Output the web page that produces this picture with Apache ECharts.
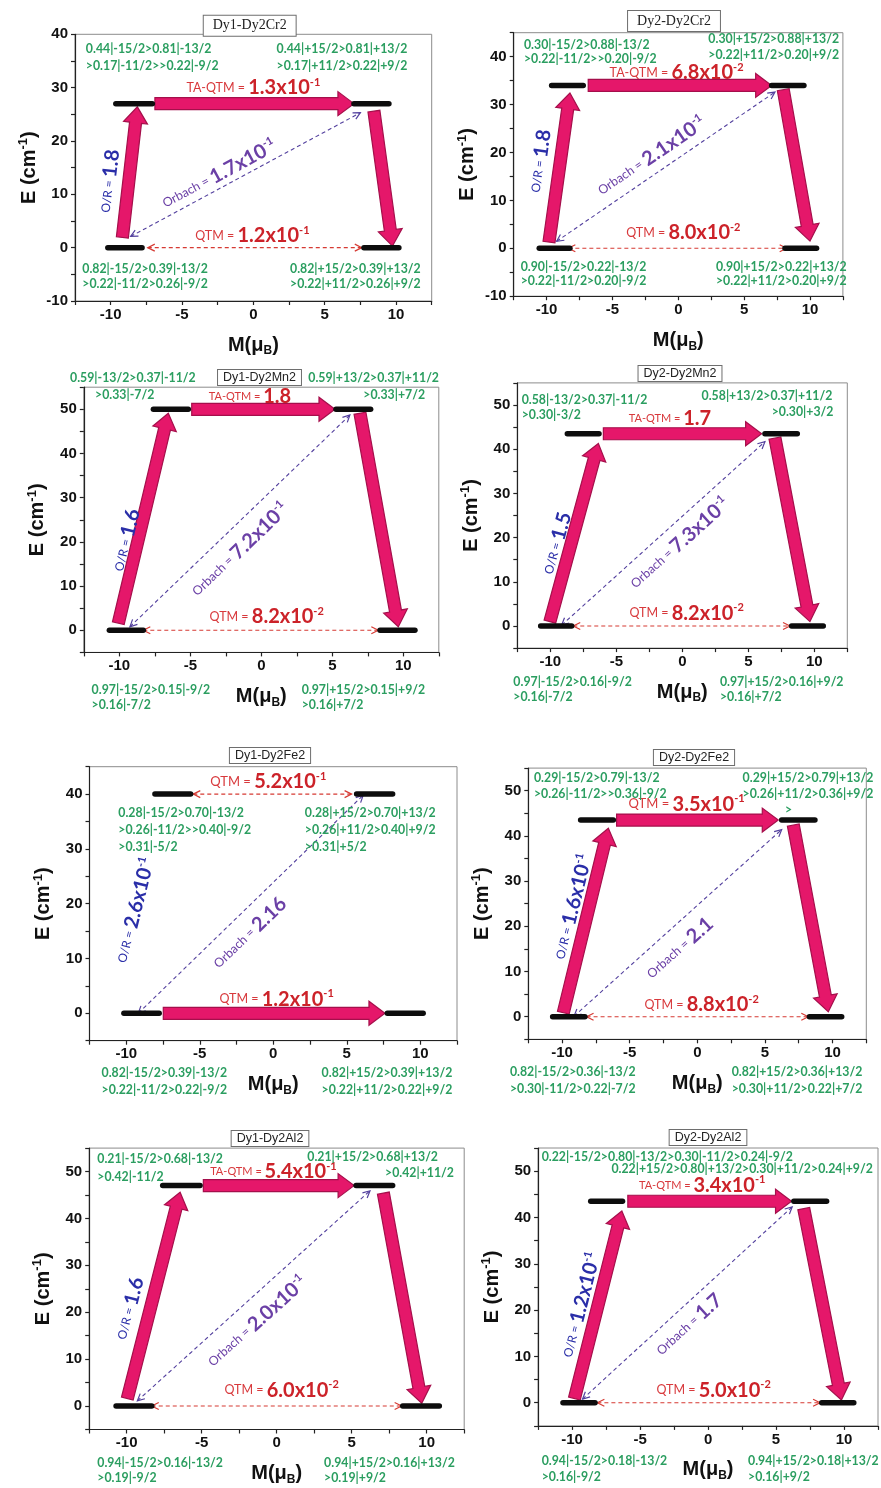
<!DOCTYPE html>
<html>
<head>
<meta charset="utf-8">
<title>Relaxation pathways of Dy sites</title>
<script src="https://cdn.jsdelivr.net/npm/echarts@6.0.0/dist/echarts.min.js"></script>
<style>
  html, body { margin: 0; padding: 0; background: #ffffff; }
  #chart { width: 881px; height: 1488px; }
</style>
</head>
<body>
<div id="chart"></div>
<script>
// ---------- data ----------
const panelNames = ['Dy1-Dy2Cr2', 'Dy2-Dy2Cr2', 'Dy1-Dy2Mn2', 'Dy2-Dy2Mn2',
                    'Dy1-Dy2Fe2', 'Dy2-Dy2Fe2', 'Dy1-Dy2Al2', 'Dy2-Dy2Al2'];

// first excited Kramers doublet energy (cm-1); ground doublet sits at 0
const excitedEnergy = [27, 34, 50, 43.5, 40, 43.5, 47, 43.5];

// level bars, [M from, M to] in muB
const groundMinus  = [[-10.2, -7.8], [-10.56, -8.23], [-10.7, -8.31], [-10.73, -8.38], [-10.16, -7.76], [-10.7, -8.31], [-10.71, -8.33], [-10.67, -8.31]];
const groundPlus   = [[7.75, 10.2], [8.1, 10.5], [8.36, 10.82], [8.28, 10.68], [7.76, 10.2], [8.29, 10.68], [8.4, 10.84], [8.36, 10.72]];
const excitedMinus = [[-9.64, -7.08], [-9.62, -7.22], [-7.6, -5.14], [-8.71, -6.31], [-8.05, -5.62], [-8.63, -6.21], [-7.6, -5.11], [-8.63, -6.29]];
const excitedPlus  = [[7.05, 9.5], [7.09, 9.54], [5.26, 7.7], [6.26, 8.71], [5.67, 8.12], [6.24, 8.7], [5.29, 7.73], [6.31, 8.72]];

// Orbach/Raman climb and descent, [M0, E0, M1, E1]; null where not drawn
const climbPath = [[-9.18, 1.9, -8.13, 26.4], [-9.82, 1.3, -8.23, 32.4], [-10.07, 1.6, -6.55, 49.1], [-10.03, 1.0, -6.36, 41.3],
                   null, [-9.91, 0.9, -6.58, 41.7], [-9.96, 1.6, -6.44, 45.6], [-9.83, 0.9, -6.34, 41.4]];
const dropPath  = [[8.45, 25.6, 9.75, 0.3], [7.97, 33.1, 10.0, 1.5], [6.95, 49.1, 9.65, 0.8], [7.02, 42.5, 9.67, 1.0],
                   null, [7.1, 42.4, 9.69, 1.1], [7.11, 45.4, 9.67, 0.6], [7.04, 41.9, 9.81, 0.6]];
// tunnelling within the excited doublet, [M0, M1] at the excited energy
const excitedTunnel = [[-6.9, 7.05], [-6.84, 7.09], [-4.9, 5.19], [-5.98, 6.01], [-5.44, 5.33], [-5.97, 5.99], [-4.89, 5.16], [-5.9, 6.14]];
// tunnelling within the ground doublet, [M0, M1] at E = 0
const groundTunnel = [[-7.4, 7.6], [-8.35, 8.23], [-8.31, 8.24], [-8.26, 8.16], [-7.48, 7.6], [-8.19, 8.21], [-8.33, 8.33], [-8.14, 8.24]];
// Orbach pathway between opposite doublet partners, [M0, E0, M1, E1]
const orbachPath = [[-8.6, 2.1, 7.5, 25.3], [-9.24, 1.46, 7.34, 32.6], [-9.25, 0.8, 6.24, 48.7], [-9.14, 0.2, 6.26, 41.7],
                    [-9.18, 0, 6.12, 39.8], [-9.12, 0.1, 6.24, 41.4], [-9.29, 1.1, 6.22, 45.9], [-9.23, 0.8, 6.19, 42.3]];
// which tunnelling path is the dominant (thick arrow) one
const dominantTunnel = ['excited', 'excited', 'excited', 'excited', 'ground', 'excited', 'excited', 'excited'];

// matrix elements of the transition magnetic moment
const orRate         = ['1.8', '1.8', '1.6', '1.5', '2.6e-1', '1.6e-1', '1.6', '1.2e-1'];
const orbachRate     = ['1.7e-1', '2.1e-1', '7.2e-1', '7.3e-1', '2.16', '2.1', '2.0e-1', '1.7'];
const excitedQtmName = ['TA-QTM', 'TA-QTM', 'TA-QTM', 'TA-QTM', 'QTM', 'QTM', 'TA-QTM', 'TA-QTM'];
const excitedQtmRate = ['1.3e-1', '6.8e-2', '1.8', '1.7', '5.2e-1', '3.5e-1', '5.4e-1', '3.4e-1'];
const groundQtmRate  = ['1.2e-1', '8.0e-2', '8.2e-2', '8.2e-2', '1.2e-1', '8.8e-2', '6.0e-2', '5.0e-2'];

// wavefunction composition of each doublet partner
const compExcitedMinus = [
  ['0.44|-15/2>0.81|-13/2', '>0.17|-11/2>>0.22|-9/2'],
  ['0.30|-15/2>0.88|-13/2', '>0.22|-11/2>>0.20|-9/2'],
  ['0.59|-13/2>0.37|-11/2', '>0.33|-7/2'],
  ['0.58|-13/2>0.37|-11/2', '>0.30|-3/2'],
  ['0.28|-15/2>0.70|-13/2', '>0.26|-11/2>>0.40|-9/2', '>0.31|-5/2'],
  ['0.29|-15/2>0.79|-13/2', '>0.26|-11/2>>0.36|-9/2'],
  ['0.21|-15/2>0.68|-13/2', '>0.42|-11/2'],
  ['0.22|-15/2>0.80|-13/2>0.30|-11/2>0.24|-9/2']
];
const compExcitedPlus = [
  ['0.44|+15/2>0.81|+13/2', '>0.17|+11/2>0.22|+9/2'],
  ['0.30|+15/2>0.88|+13/2', '>0.22|+11/2>0.20|+9/2'],
  ['0.59|+13/2>0.37|+11/2', '>0.33|+7/2'],
  ['0.58|+13/2>0.37|+11/2', '>0.30|+3/2'],
  ['0.28|+15/2>0.70|+13/2', '>0.26|+11/2>0.40|+9/2', '>0.31|+5/2'],
  ['0.29|+15/2>0.79|+13/2', '>0.26|+11/2>0.36|+9/2', '>'],
  ['0.21|+15/2>0.68|+13/2', '>0.42|+11/2'],
  ['0.22|+15/2>0.80|+13/2>0.30|+11/2>0.24|+9/2']
];
const compGroundMinus = [
  ['0.82|-15/2>0.39|-13/2', '>0.22|-11/2>0.26|-9/2'],
  ['0.90|-15/2>0.22|-13/2', '>0.22|-11/2>0.20|-9/2'],
  ['0.97|-15/2>0.15|-9/2', '>0.16|-7/2'],
  ['0.97|-15/2>0.16|-9/2', '>0.16|-7/2'],
  ['0.82|-15/2>0.39|-13/2', '>0.22|-11/2>0.22|-9/2'],
  ['0.82|-15/2>0.36|-13/2', '>0.30|-11/2>0.22|-7/2'],
  ['0.94|-15/2>0.16|-13/2', '>0.19|-9/2'],
  ['0.94|-15/2>0.18|-13/2', '>0.16|-9/2']
];
const compGroundPlus = [
  ['0.82|+15/2>0.39|+13/2', '>0.22|+11/2>0.26|+9/2'],
  ['0.90|+15/2>0.22|+13/2', '>0.22|+11/2>0.20|+9/2'],
  ['0.97|+15/2>0.15|+9/2', '>0.16|+7/2'],
  ['0.97|+15/2>0.16|+9/2', '>0.16|+7/2'],
  ['0.82|+15/2>0.39|+13/2', '>0.22|+11/2>0.22|+9/2'],
  ['0.82|+15/2>0.36|+13/2', '>0.30|+11/2>0.22|+7/2'],
  ['0.94|+15/2>0.16|+13/2', '>0.19|+9/2'],
  ['0.94|+15/2>0.18|+13/2', '>0.16|+9/2']
];

// ---------- layout (pixel grids, axis ranges, text anchors in axis units) ----------
const layout = [
  { grid: [75.0, 34.3, 356.7, 266.7], y: [-10, 40], title: [249.7, 35.7], serif: true, taSize: 12.5,
    ta: [0, 30], qtm: [-0.07, 2.2], orbach: [-2.4, 13.75], or: [-10.1, 12.5],
    exMinus: { align: 'left',  at: [[-11.74, 37.2], [-11.74, 34.1]] },
    exPlus:  { align: 'right', at: [[10.79, 37.2], [10.79, 34.1]] },
    gMinus:  { align: 'left',  at: [[-11.99, -4.06], [-11.99, -6.88]] },
    gPlus:   { align: 'right', at: [[11.73, -4.06], [11.73, -6.88]] } },
  { grid: [513.7, 32.7, 329.2, 263.5], y: [-10, 45], title: [674, 31], serif: true, taSize: 12.5,
    ta: [-0.13, 36.6], qtm: [0.38, 3.3], orbach: [-2.03, 19.2], or: [-10.5, 18.2],
    exMinus: { align: 'left', at: [[-11.72, 42.5], [-11.72, 39.6]] },
    exPlus:  { align: 'left', at: [[2.28, 43.6], [2.28, 40.4]] },
    gMinus:  { align: 'left', at: [[-11.97, -3.9], [-11.97, -6.9]] },
    gPlus:   { align: 'left', at: [[2.86, -3.9], [2.86, -6.9]] } },
  { grid: [83.8, 387.2, 355, 265.2], y: [-5, 55], title: [259.5, 385], serif: false, taSize: 11,
    ta: [-0.8, 52.9], qtm: [0.38, 3.1], orbach: [-1.5, 18.2], or: [-9.5, 20.4],
    exMinus: { align: 'left', at: [[-13.47, 57.0], [-11.71, 53.2]] },
    exPlus:  { align: 'left', at: [[3.31, 57.0], [7.18, 53.2]] },
    gMinus:  { align: 'left', at: [[-11.95, -13.5], [-11.95, -16.9]] },
    gPlus:   { align: 'left', at: [[2.84, -13.5], [2.84, -16.9]] } },
  { grid: [517.3, 382.9, 330, 265.2], y: [-5, 55], title: [680, 381], serif: false, taSize: 11,
    ta: [-0.93, 47], qtm: [0.33, 2.9], orbach: [-0.2, 18.7], or: [-9.5, 18.7],
    exMinus: { align: 'left', at: [[-12.17, 51.1], [-12.17, 47.7]] },
    exPlus:  { align: 'left', at: [[1.46, 52.0], [6.77, 48.5]] },
    gMinus:  { align: 'left', at: [[-12.8, -12.6], [-12.8, -16.0]] },
    gPlus:   { align: 'left', at: [[2.85, -12.6], [2.85, -16.0]] } },
  { grid: [89.5, 766.7, 367.5, 274], y: [-5, 45], title: [270, 763], serif: false, taSize: 13,
    ta: [-0.34, 42.2], qtm: [0.23, 2.55], orbach: [-1.6, 14.6], or: [-9.4, 18.8], orAngle: 76,
    exMinus: { align: 'left', at: [[-10.54, 36.5], [-10.54, 33.4], [-10.54, 30.4]] },
    exPlus:  { align: 'left', at: [[2.15, 36.5], [2.15, 33.4], [2.15, 30.4]] },
    gMinus:  { align: 'left', at: [[-11.68, -10.9], [-11.68, -14.0]] },
    gPlus:   { align: 'left', at: [[3.29, -10.9], [3.29, -14.0]] } },
  { grid: [528.3, 768.1, 338, 271.2], y: [-5, 55], title: [694, 765], serif: false, taSize: 13,
    ta: [-0.79, 47], qtm: [0.32, 2.6], orbach: [-1.3, 15.1], or: [-9.2, 24.3],
    exMinus: { align: 'left', at: [[-12.08, 52.9], [-12.08, 49.3]] },
    exPlus:  { align: 'left', at: [[3.35, 52.9], [3.35, 49.3], [6.49, 45.7]] },
    gMinus:  { align: 'left', at: [[-13.86, -12.2], [-13.86, -16.1]] },
    gPlus:   { align: 'left', at: [[2.54, -12.2], [2.54, -16.1]] } },
  { grid: [89.2, 1148.1, 375, 281.4], y: [-5, 55], title: [270, 1146], serif: false, taSize: 11,
    ta: [-0.22, 50], qtm: [0.33, 3.4], orbach: [-1.3, 18], or: [-9.8, 20.8],
    exMinus: { align: 'left', at: [[-11.96, 52.7], [-11.96, 48.9]] },
    exPlus:  { align: 'left', at: [[2.04, 53.2], [7.22, 49.6]] },
    gMinus:  { align: 'left', at: [[-11.96, -12.2], [-11.96, -15.4]] },
    gPlus:   { align: 'left', at: [[3.16, -12.2], [3.16, -15.4]] } },
  { grid: [538.1, 1148, 345.8, 277.9], y: [-5, 55], title: [708, 1145], serif: false, taSize: 11,
    ta: [-0.43, 47], qtm: [0.41, 2.7], orbach: [-1.4, 16.8], or: [-9.35, 21.1],
    exMinus: { align: 'left', at: [[-12.24, 53.1]] },
    exPlus:  { align: 'left', at: [[-7.11, 50.4]] },
    gMinus:  { align: 'left', at: [[-12.24, -12.6], [-12.24, -16.0]] },
    gPlus:   { align: 'left', at: [[2.94, -12.6], [2.94, -16.0]] } }
];

// ---------- styling ----------
const SANS = 'Liberation Sans, Arial, sans-serif';
const SERIF = 'Liberation Serif, Times New Roman, serif';
const LABEL_FONT = 'Lato, Noto Sans, sans-serif';
const PINK = '#e5176a', PINK_EDGE = '#a50f4b';
const RED = '#cc2229', RED_NAME = '#d8393c';
const PURPLE = '#6b40a6', BLUE = '#2a2ea8', GREEN = '#2b9e60';
const DASH_PURPLE = '#53409e', DASH_RED = '#d63a33';

function rateText(name, rate) {
  const parts = rate.split('e');
  return '{n|' + name + ' = }{v|' + parts[0] + (parts[1] ? 'x10' : '') + '}' + (parts[1] ? '{s|' + parts[1] + '}' : '');
}
function rateRich(nameColor, valueColor, nameSize) {
  return {
    n: { fontSize: nameSize, fontFamily: LABEL_FONT, fontWeight: 'normal', fill: nameColor, lineHeight: 22 },
    v: { fontSize: 20, fontFamily: LABEL_FONT, fontWeight: 'bold', fill: valueColor, lineHeight: 22 },
    s: { fontSize: 11, fontFamily: LABEL_FONT, fontWeight: 'bold', fill: valueColor, lineHeight: 12, verticalAlign: 'top' }
  };
}

function arrowPolygon(p0, p1, shaft, headW, headL) {
  const dx = p1[0] - p0[0], dy = p1[1] - p0[1];
  const len = Math.hypot(dx, dy);
  const ux = dx / len, uy = dy / len, nx = -uy, ny = ux;
  const bx = p1[0] - ux * headL, by = p1[1] - uy * headL;
  const h = shaft / 2, w = headW / 2;
  return [
    [p0[0] + nx * h, p0[1] + ny * h], [bx + nx * h, by + ny * h], [bx + nx * w, by + ny * w], [p1[0], p1[1]],
    [bx - nx * w, by - ny * w], [bx - nx * h, by - ny * h], [p0[0] - nx * h, p0[1] - ny * h]
  ];
}
function chevron(tip, ux, uy, len, half) {
  const bx = tip[0] - ux * len, by = tip[1] - uy * len, nx = -uy, ny = ux;
  return [[bx + nx * half, by + ny * half], [tip[0], tip[1]], [bx - nx * half, by - ny * half]];
}

// one list of drawable pieces per panel, all positioned in axis units
function buildElements(i) {
  const L = layout[i];
  const E = excitedEnergy[i];
  const els = [];
  const path = a => [[a[0], a[1]], [a[2], a[3]]];

  if (climbPath[i]) els.push({ kind: 'thick', pts: path(climbPath[i]) });
  if (dropPath[i]) els.push({ kind: 'thick', pts: path(dropPath[i]) });
  const exPts = [[excitedTunnel[i][0], E], [excitedTunnel[i][1], E]];
  const grPts = [[groundTunnel[i][0], 0], [groundTunnel[i][1], 0]];
  if (dominantTunnel[i] === 'excited') {
    els.push({ kind: 'thick', pts: exPts });
    els.push({ kind: 'dashed', pts: grPts, color: DASH_RED });
  } else {
    els.push({ kind: 'dashed', pts: exPts, color: DASH_RED });
    els.push({ kind: 'thick', pts: grPts });
  }
  els.push({ kind: 'dashed', pts: path(orbachPath[i]), color: DASH_PURPLE });

  [groundMinus, groundPlus].forEach(arr => els.push({ kind: 'level', pts: [[arr[i][0], 0], [arr[i][1], 0]] }));
  [excitedMinus, excitedPlus].forEach(arr => els.push({ kind: 'level', pts: [[arr[i][0], E], [arr[i][1], E]] }));

  els.push({ kind: 'text', at: L.ta, text: rateText(excitedQtmName[i], excitedQtmRate[i]), rich: rateRich(RED_NAME, RED, L.taSize) });
  els.push({ kind: 'text', at: L.qtm, text: rateText('QTM', groundQtmRate[i]), rich: rateRich(RED_NAME, RED, 12.5) });
  els.push({ kind: 'text', at: L.orbach, along: path(orbachPath[i]), text: rateText('Orbach', orbachRate[i]), rich: rateRich(PURPLE, PURPLE, 12.5) });
  els.push({ kind: 'text', at: L.or, along: climbPath[i] ? path(climbPath[i]) : null, angle: L.orAngle,
             text: rateText('O/R', orRate[i]), rich: rateRich(BLUE, BLUE, 12) });

  const comps = [[compExcitedMinus, L.exMinus], [compExcitedPlus, L.exPlus], [compGroundMinus, L.gMinus], [compGroundPlus, L.gPlus]];
  comps.forEach(([lines, spec]) => {
    lines[i].forEach((line, k) => {
      els.push({ kind: 'comp', at: spec.at[k], align: spec.align, text: line });
    });
  });
  return els;
}

function renderElement(el, api) {
  if (el.kind === 'level') {
    const a = api.coord(el.pts[0]), b = api.coord(el.pts[1]);
    return { type: 'line', shape: { x1: a[0], y1: a[1], x2: b[0], y2: b[1] },
             style: { stroke: '#0d0d0d', lineWidth: 5.5, lineCap: 'round' }, z2: 30 };
  }
  if (el.kind === 'thick') {
    const a = api.coord(el.pts[0]), b = api.coord(el.pts[1]);
    return { type: 'polygon', shape: { points: arrowPolygon(a, b, 12, 24, 16) },
             style: { fill: PINK, stroke: PINK_EDGE, lineWidth: 1.2 }, z2: 10 };
  }
  if (el.kind === 'dashed') {
    const a = api.coord(el.pts[0]), b = api.coord(el.pts[1]);
    const len = Math.hypot(b[0] - a[0], b[1] - a[1]);
    const ux = (b[0] - a[0]) / len, uy = (b[1] - a[1]) / len;
    const st = { stroke: el.color, lineWidth: 1.2, fill: 'none' };
    return { type: 'group', children: [
      { type: 'line', shape: { x1: a[0], y1: a[1], x2: b[0], y2: b[1] }, style: { stroke: el.color, lineWidth: 1.1, lineDash: [4, 3] }, z2: 20 },
      { type: 'polyline', shape: { points: chevron(b, ux, uy, 7, 3.5) }, style: st, z2: 20 },
      { type: 'polyline', shape: { points: chevron(a, -ux, -uy, 7, 3.5) }, style: st, z2: 20 }
    ] };
  }
  if (el.kind === 'text') {
    const p = api.coord(el.at);
    let rotation = 0;
    if (el.along) {
      const a = api.coord(el.along[0]), b = api.coord(el.along[1]);
      rotation = Math.atan2(a[1] - b[1], b[0] - a[0]);
    } else if (el.angle) {
      rotation = el.angle * Math.PI / 180;
    }
    return { type: 'text', x: p[0], y: p[1], rotation: rotation,
             style: { text: el.text, rich: el.rich, fontFamily: LABEL_FONT, fontSize: 13, align: 'center', verticalAlign: 'middle' }, z2: 40 };
  }
  // composition lines
  const p = api.coord(el.at);
  return { type: 'text', x: p[0], y: p[1],
           style: { text: el.text, fill: GREEN, fontFamily: LABEL_FONT, fontWeight: 'bold', fontSize: 12.3, align: el.align, verticalAlign: 'middle' }, z2: 40 };
}

// ---------- chart ----------
const chart = echarts.init(document.getElementById('chart'), null, { renderer: 'canvas' });
const grids = [], xAxes = [], yAxes = [], series = [], graphics = [];
const tickLabelStyle = { fontSize: 15, fontWeight: 'bold', fontFamily: SANS, color: '#111' };
const axisLineStyle = { color: '#222', width: 1.2 };

panelNames.forEach((name, i) => {
  const L = layout[i];
  grids.push({ left: L.grid[0], top: L.grid[1], width: L.grid[2], height: L.grid[3],
               show: true, borderColor: '#8c8c8c', borderWidth: 1, backgroundColor: 'transparent' });
  xAxes.push({
    gridIndex: i, type: 'value', min: -12.5, max: 12.5, interval: 2.5,
    axisLine: { onZero: false, lineStyle: axisLineStyle },
    axisTick: { length: 4, lineStyle: axisLineStyle },
    axisLabel: Object.assign({ margin: 6, formatter: v => (v % 5 === 0 ? String(v) : '') }, tickLabelStyle),
    splitLine: { show: false },
    name: '{a|M(μ}{b|B}{a|)}', nameLocation: 'middle', nameGap: 32,
    nameTextStyle: { rich: {
      a: { fontSize: 20, fontWeight: 'bold', fontFamily: SANS, color: '#111', lineHeight: 24 },
      b: { fontSize: 12, fontWeight: 'bold', fontFamily: SANS, color: '#111', lineHeight: 10, verticalAlign: 'bottom' }
    } }
  });
  yAxes.push({
    gridIndex: i, type: 'value', min: L.y[0], max: L.y[1], interval: 5,
    axisLine: { onZero: false, lineStyle: axisLineStyle },
    axisTick: { length: 4, lineStyle: axisLineStyle },
    axisLabel: Object.assign({ margin: 7, formatter: v => (v % 10 === 0 ? String(v) : '') }, tickLabelStyle),
    splitLine: { show: false },
    name: '{a|E (cm}{s|-1}{a|)}', nameLocation: 'middle', nameRotate: 90, nameGap: 34,
    nameTextStyle: { rich: {
      a: { fontSize: 20, fontWeight: 'bold', fontFamily: SANS, color: '#111', lineHeight: 24 },
      s: { fontSize: 13, fontWeight: 'bold', fontFamily: SANS, color: '#111', lineHeight: 12, verticalAlign: 'top' }
    } }
  });
  const els = buildElements(i);
  series.push({
    type: 'custom', name: name, coordinateSystem: 'cartesian2d', xAxisIndex: i, yAxisIndex: i,
    clip: false, silent: true,
    data: els.map(e => (e.pts ? e.pts[0] : e.at)),
    renderItem: (params, api) => renderElement(els[params.dataIndex], api)
  });
  graphics.push({
    type: 'text', x: L.title[0], y: L.title[1], z: 50,
    style: { text: name, fontFamily: L.serif ? SERIF : SANS, fontSize: L.serif ? 14 : 12.5, fill: '#222',
             align: 'center', verticalAlign: 'bottom', padding: L.serif ? [3, 9] : [1, 5],
             borderColor: '#6e6e6e', borderWidth: 1, backgroundColor: '#ffffff' }
  });
});

chart.setOption({
  animation: false,
  backgroundColor: '#ffffff',
  grid: grids, xAxis: xAxes, yAxis: yAxes, series: series, graphic: graphics
});
</script>
</body>
</html>
